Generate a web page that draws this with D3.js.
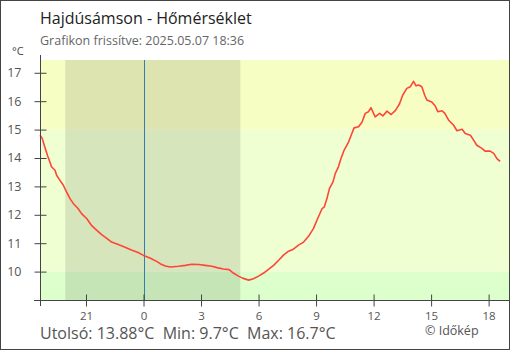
<!DOCTYPE html>
<html><head><meta charset="utf-8">
<script src="https://cdn.jsdelivr.net/npm/d3@7"></script>
<style>body{margin:0;background:#fff}svg{display:block;font-family:"Open Sans",sans-serif}</style>
</head><body>
<script>
const title = "Hajdúsámson - Hőmérséklet";
const subtitle = "Grafikon frissítve: 2025.05.07 18:36";
const unitLabel = "°C";
const times = ["2025-05-06 18:36","2025-05-06 18:43","2025-05-06 18:51","2025-05-06 19:00","2025-05-06 19:07","2025-05-06 19:12","2025-05-06 19:23","2025-05-06 19:28","2025-05-06 19:38","2025-05-06 19:49","2025-05-06 19:59","2025-05-06 20:10","2025-05-06 20:20","2025-05-06 20:35","2025-05-06 20:46","2025-05-06 21:02","2025-05-06 21:17","2025-05-06 21:33","2025-05-06 21:49","2025-05-06 22:04","2025-05-06 22:20","2025-05-06 22:41","2025-05-06 23:02","2025-05-06 23:22","2025-05-06 23:43","2025-05-07 00:00","2025-05-07 00:20","2025-05-07 00:41","2025-05-07 00:52","2025-05-07 01:08","2025-05-07 01:24","2025-05-07 01:50","2025-05-07 02:11","2025-05-07 02:31","2025-05-07 02:52","2025-05-07 03:13","2025-05-07 03:34","2025-05-07 03:50","2025-05-07 04:10","2025-05-07 04:28","2025-05-07 04:41","2025-05-07 04:57","2025-05-07 05:10","2025-05-07 05:29","2025-05-07 05:44","2025-05-07 06:00","2025-05-07 06:16","2025-05-07 06:31","2025-05-07 06:47","2025-05-07 07:03","2025-05-07 07:18","2025-05-07 07:34","2025-05-07 07:49","2025-05-07 08:05","2025-05-07 08:21","2025-05-07 08:37","2025-05-07 08:52","2025-05-07 09:05","2025-05-07 09:19","2025-05-07 09:26","2025-05-07 09:34","2025-05-07 09:42","2025-05-07 09:53","2025-05-07 10:00","2025-05-07 10:10","2025-05-07 10:18","2025-05-07 10:28","2025-05-07 10:42","2025-05-07 10:52","2025-05-07 10:59","2025-05-07 11:13","2025-05-07 11:24","2025-05-07 11:34","2025-05-07 11:44","2025-05-07 11:52","2025-05-07 12:05","2025-05-07 12:19","2025-05-07 12:29","2025-05-07 12:42","2025-05-07 12:55","2025-05-07 13:08","2025-05-07 13:21","2025-05-07 13:31","2025-05-07 13:44","2025-05-07 13:55","2025-05-07 14:05","2025-05-07 14:13","2025-05-07 14:21","2025-05-07 14:31","2025-05-07 14:40","2025-05-07 14:47","2025-05-07 15:03","2025-05-07 15:13","2025-05-07 15:21","2025-05-07 15:34","2025-05-07 15:42","2025-05-07 15:55","2025-05-07 16:10","2025-05-07 16:21","2025-05-07 16:37","2025-05-07 16:47","2025-05-07 17:03","2025-05-07 17:13","2025-05-07 17:23","2025-05-07 17:39","2025-05-07 17:49","2025-05-07 18:05","2025-05-07 18:16","2025-05-07 18:26","2025-05-07 18:36"];
const temps = [14.80,14.69,14.39,14.07,13.86,13.69,13.57,13.39,13.22,13.04,12.81,12.57,12.40,12.22,12.04,11.87,11.63,11.46,11.30,11.18,11.04,10.95,10.86,10.76,10.67,10.57,10.48,10.36,10.28,10.20,10.16,10.19,10.22,10.26,10.25,10.22,10.19,10.14,10.09,10.07,9.95,9.84,9.77,9.70,9.75,9.84,9.95,10.08,10.22,10.40,10.58,10.72,10.79,10.93,11.04,11.25,11.52,11.87,12.22,12.28,12.57,12.93,13.16,13.45,13.69,13.98,14.28,14.57,14.86,15.06,15.10,15.27,15.57,15.63,15.77,15.45,15.57,15.48,15.65,15.53,15.67,15.90,16.21,16.45,16.51,16.70,16.54,16.57,16.51,16.21,16.04,15.96,15.83,15.63,15.66,15.59,15.33,15.16,14.96,15.01,14.86,14.80,14.63,14.45,14.34,14.24,14.24,14.16,13.98,13.88];
const yTicks = [10,11,12,13,14,15,16,17];
const xTickHours = [21,0,3,6,9,12,15,18];
const bands = [{from:9,to:10,color:"#ddffcc"},{from:10,to:15,color:"#efffd1"},{from:15,to:17.45,color:"#f6fec3"}];
const nightStart = "2025-05-06 19:55", nightEnd = "2025-05-07 05:03";
const midnight = "2025-05-07 00:00";
const domainStart = "2025-05-06 18:36", domainEnd = "2025-05-07 19:06";
const footer = "Utolsó: 13.88°C  Min: 9.7°C  Max: 16.7°C";
const credit = "© Időkép";

const parse = d3.timeParse("%Y-%m-%d %H:%M");
const W = 510, H = 350;
const svg = d3.select("body").append("svg").attr("width", W).attr("height", H);
const x = d3.scaleTime().domain([parse(domainStart), parse(domainEnd)]).range([40, 509.7]);
const y = d3.scaleLinear().domain([9, 17.45]).range([300, 60]);

// background bands
svg.selectAll("rect.band").data(bands).enter().append("rect")
  .attr("x", 40).attr("width", 470)
  .attr("y", d => y(d.to)).attr("height", d => y(d.from) - y(d.to))
  .attr("fill", d => d.color);
// midnight line (under the night shade)
const mx = Math.round(x(parse(midnight))) + 0.5;
svg.append("line").attr("x1", mx).attr("x2", mx)
  .attr("y1", 60).attr("y2", 300).attr("stroke", "#3a8cc8").attr("stroke-width", 1);
// night
svg.append("rect").attr("x", x(parse(nightStart))).attr("width", x(parse(nightEnd)) - x(parse(nightStart)))
  .attr("y", y(17.45)).attr("height", y(9) - y(17.45)).attr("fill", "rgba(0,0,0,0.1)");

// line
const data = times.map((t, i) => ({t: parse(t), v: temps[i]}));
svg.append("path").datum(data).attr("fill", "none").attr("stroke", "#ff4538").attr("stroke-width", 1.6)
  .attr("stroke-linejoin", "round")
  .attr("d", d3.line().x(d => x(d.t)).y(d => y(d.v)));

// axes
const axisColor = "#444";
const yAxis = svg.append("g").attr("transform", "translate(40.5,0)")
  .call(d3.axisLeft(y).tickValues(yTicks).tickSize(6).tickPadding(13).tickSizeOuter(0));
yAxis.select(".domain").remove();
yAxis.append("line").attr("y1", 55).attr("y2", 306).attr("stroke", axisColor);
yAxis.selectAll(".tick line").attr("x1", -6).attr("x2", 6).attr("stroke", axisColor);
yAxis.selectAll(".tick text").attr("fill", "#555").style("font-size", "12.5px").style("font-family", "Open Sans");

const xTickDates = xTickHours.map(h => new Date(2025, 4, h >= 19 ? 6 : 7, h, 0));
const xAxis = svg.append("g").attr("transform", "translate(0,300.5)")
  .call(d3.axisBottom(x).tickValues(xTickDates).tickFormat(d => String(d.getHours())).tickSize(6).tickPadding(5).tickSizeOuter(0));
xAxis.select(".domain").remove();
xAxis.append("line").attr("x1", 34).attr("x2", 510).attr("stroke", axisColor);
xAxis.selectAll(".tick line").attr("y1", -6).attr("y2", 6).attr("stroke", axisColor);
xAxis.selectAll(".tick text").attr("fill", "#555").style("font-size", "11.5px").style("font-family", "Open Sans");

// texts
svg.append("text").attr("x", 40).attr("y", 24).attr("fill", "#222").style("font-size", "16px").text(title);
svg.append("text").attr("x", 40).attr("y", 45).attr("fill", "#666").style("font-size", "12.5px").text(subtitle);
svg.append("text").attr("x", 12).attr("y", 55).attr("fill", "#444").style("font-size", "11px").text(unitLabel);
svg.append("text").attr("x", 40).attr("y", 339).attr("fill", "#555").style("font-size", "16px")
  .style("white-space", "pre").attr("xml:space", "preserve").text(footer);
svg.append("text").attr("x", 425).attr("y", 335).attr("fill", "#555").style("font-size", "12.5px").text(credit);

// frame
svg.append("rect").attr("x", 0.5).attr("y", 0.5).attr("width", 509).attr("height", 349)
  .attr("fill", "none").attr("stroke", "#444").attr("stroke-width", 1);
</script>
</body></html>
